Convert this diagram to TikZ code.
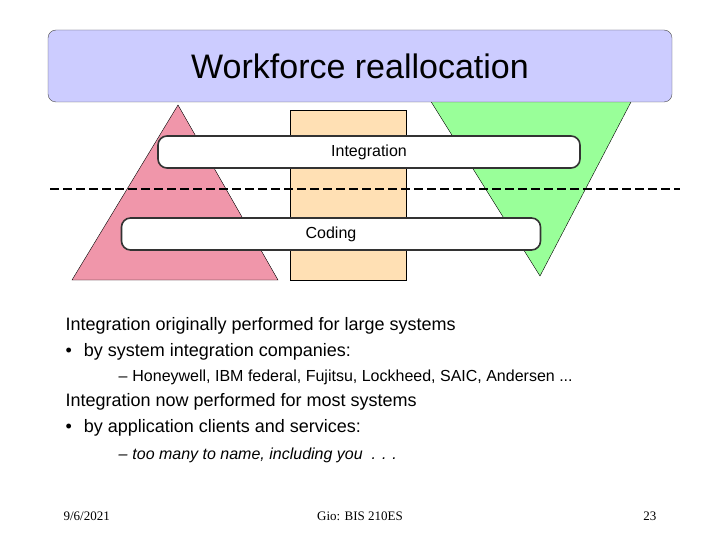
\documentclass[tikz,border=0pt]{standalone}
\usepackage{fontspec}
\setmainfont{Liberation Sans}
\newfontfamily\timesf{Liberation Serif}
\begin{document}
\begin{tikzpicture}[x=1pt,y=-1pt,
  bar/.style={draw=black!80,line width=1.6pt,fill=white,rounded corners=9pt},
  body/.style={anchor=base west,font=\fontsize{18}{21}\selectfont},
  sub/.style={anchor=base west,font=\fontsize{16}{19}\selectfont},
  foot/.style={anchor=base,font=\timesf\fontsize{13}{15}\selectfont}]
\useasboundingbox (0,0) rectangle (720,540);
\fill[fill={rgb,255:red,240;green,150;blue,170},draw=black] (178,105) -- (278,280) -- (72,280) -- cycle;
\draw[fill={rgb,255:red,255;green,224;blue,180},draw=black] (290,110) rectangle (406,280);
\draw[fill={rgb,255:red,153;green,255;blue,153},draw=black] (430,100) -- (632,100) -- (540,276) -- cycle;
\node[draw=black!70,fill={rgb,255:red,204;green,204;blue,255},rounded corners=8pt,minimum width=624pt,minimum height=72pt,font=\fontsize{34}{38}\selectfont] (title) at (360,66) {Workforce reallocation};
\node[bar,minimum width=422pt,minimum height=32pt,font=\fontsize{16}{19}\selectfont] (int) at (369,152) {Integration};
\coordinate (dl) at (50,189); \coordinate (dr) at (680,189);
\draw[line width=1.8pt,dash pattern=on 9pt off 4pt] (dl) -- (dr);
\node[bar,minimum width=419pt,minimum height=32pt,font=\fontsize{16}{19}\selectfont] (cod) at (331,234) {Coding};
\node[body] (t1) at (62,330) {Integration originally performed for large systems};
\node[body] (b1) at (62,356) {•\hspace{12pt}by system integration companies:};
\node[sub] (s1) at (115,381) {–\hspace{5pt}Honeywell, IBM federal, Fujitsu, Lockheed, SAIC, Andersen ...};
\node[body] (t2) at (62,406) {Integration now performed for most systems};
\node[body] (b2) at (62,432) {•\hspace{12pt}by application clients and services:};
\node[sub,font=\itshape\fontsize{16}{19}\selectfont] (s2) at (115,459) {–\hspace{5pt}too many to name, including you \ . . .};
\node[foot,anchor=base west] (f1) at (60,520) {9/6/2021};
\node[foot] (f2) at (360,520) {Gio: BIS 210ES};
\node[foot,anchor=base east] (f3) at (660,520) {23};
\end{tikzpicture}
\end{document}
